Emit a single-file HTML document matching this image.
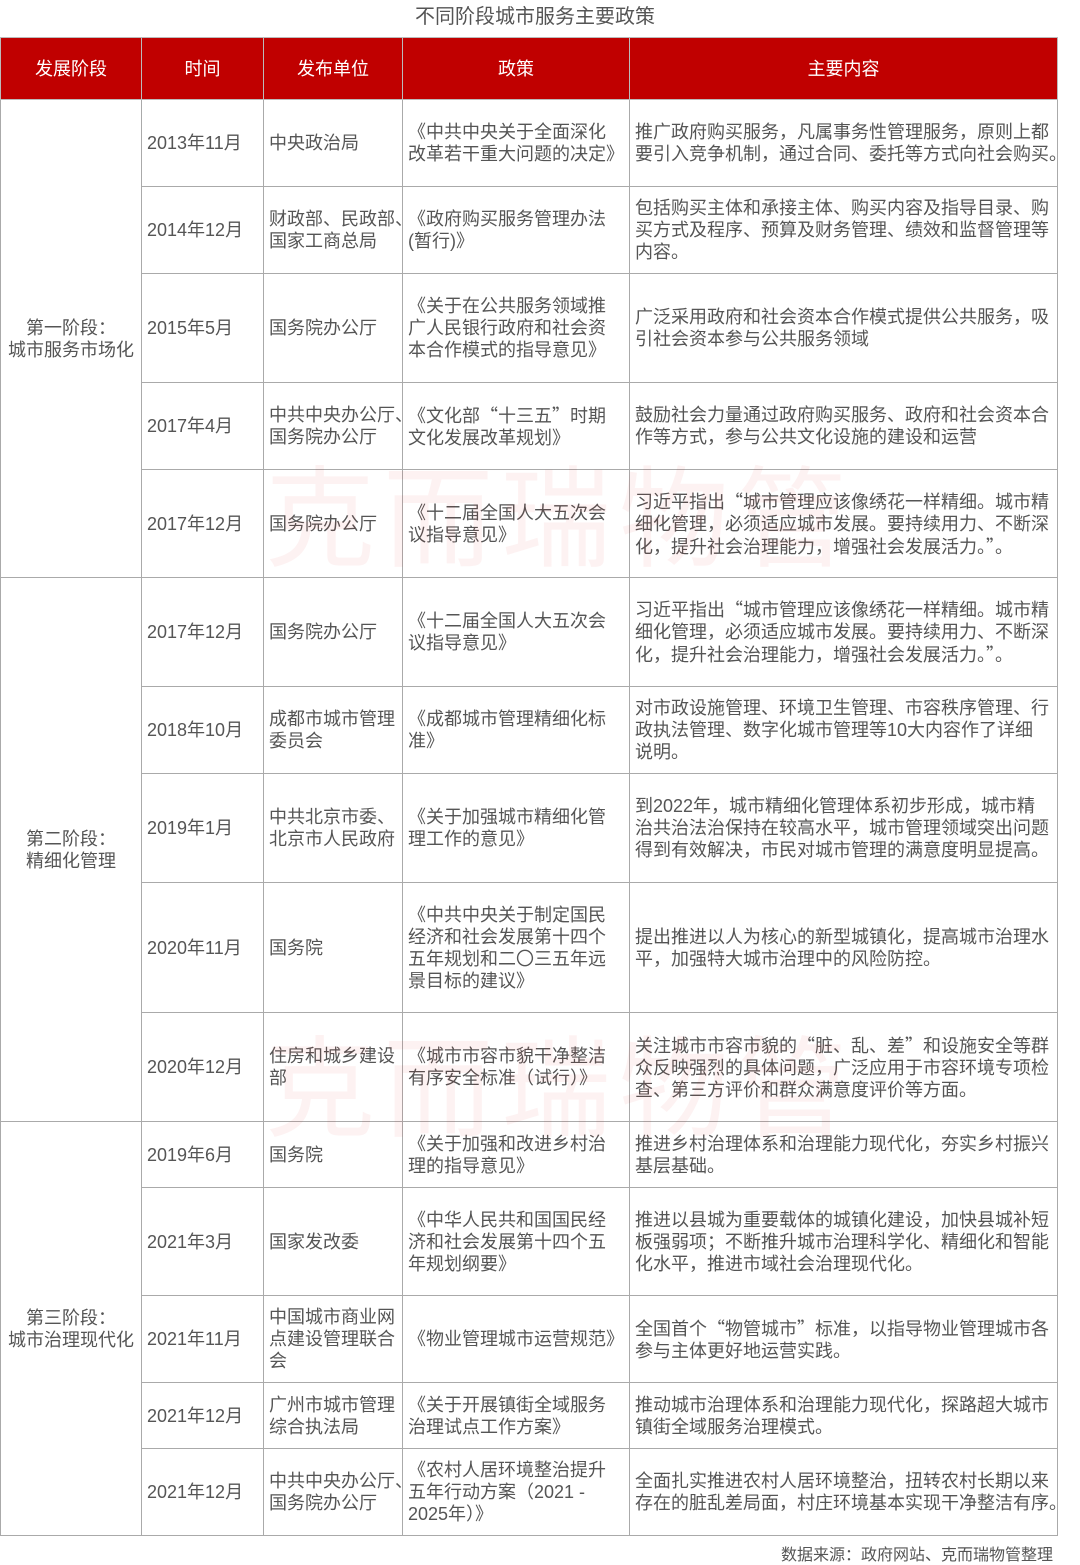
<!DOCTYPE html>
<html><head><meta charset="utf-8"><style>
body{margin:0;width:1080px;height:1564px;background:#fff;font-family:"Liberation Sans","Noto Sans CJK SC",sans-serif;color:#555;position:relative;overflow:hidden}
.title{position:absolute;top:4px;left:0;width:1070px;text-align:center;font-size:20px;color:#555;line-height:26px}
table{position:absolute;top:37px;left:0;border-collapse:collapse;table-layout:fixed;width:1057px}
td,th{border:1px solid #aaa;font-size:18px;line-height:22px;padding:0 0 0 5px;white-space:nowrap;overflow:visible;vertical-align:middle;text-align:left}
th{background:#c00000;color:#fff;font-weight:normal;text-align:center;height:61px;padding:0;border-color:#bbb}
td.c{text-align:center;padding:0}
.q{font-family:"Noto Sans CJK SC",sans-serif}
.src{position:absolute;top:1541px;right:27px;font-size:16px;color:#555}
.wm{position:absolute;font-size:110px;color:rgba(220,0,0,0.05);white-space:nowrap;letter-spacing:8px}
</style></head><body>
<div class="title">不同阶段城市服务主要政策</div>
<table>
<colgroup><col style="width:141px"><col style="width:122px"><col style="width:139px"><col style="width:227px"><col style="width:428px"></colgroup>
<tr><th>发展阶段</th><th>时间</th><th>发布单位</th><th>政策</th><th>主要内容</th></tr>
<tr style="height:87px"><td class="c" rowspan="5">第一阶段：<br>城市服务市场化</td><td>2013年11月</td><td>中央政治局</td><td>《中共中央关于全面深化<br>改革若干重大问题的决定》</td><td>推广政府购买服务，凡属事务性管理服务，原则上都<br>要引入竞争机制，通过合同、委托等方式向社会购买。</td></tr>
<tr style="height:87px"><td>2014年12月</td><td>财政部、民政部、<br>国家工商总局</td><td>《政府购买服务管理办法<br>(暂行)》</td><td>包括购买主体和承接主体、购买内容及指导目录、购<br>买方式及程序、预算及财务管理、绩效和监督管理等<br>内容。</td></tr>
<tr style="height:109px"><td>2015年5月</td><td>国务院办公厅</td><td>《关于在公共服务领域推<br>广人民银行政府和社会资<br>本合作模式的指导意见》</td><td>广泛采用政府和社会资本合作模式提供公共服务，吸<br>引社会资本参与公共服务领域</td></tr>
<tr style="height:87px"><td>2017年4月</td><td>中共中央办公厅、<br>国务院办公厅</td><td>《文化部<span class="q">“</span>十三五<span class="q">”</span>时期<br>文化发展改革规划》</td><td>鼓励社会力量通过政府购买服务、政府和社会资本合<br>作等方式，参与公共文化设施的建设和运营</td></tr>
<tr style="height:108px"><td>2017年12月</td><td>国务院办公厅</td><td>《十二届全国人大五次会<br>议指导意见》</td><td>习近平指出<span class="q">“</span>城市管理应该像绣花一样精细。城市精<br>细化管理，必须适应城市发展。要持续用力、不断深<br>化，提升社会治理能力，增强社会发展活力。<span class="q">”</span>。</td></tr>
<tr style="height:109px"><td class="c" rowspan="5">第二阶段：<br>精细化管理</td><td>2017年12月</td><td>国务院办公厅</td><td>《十二届全国人大五次会<br>议指导意见》</td><td>习近平指出<span class="q">“</span>城市管理应该像绣花一样精细。城市精<br>细化管理，必须适应城市发展。要持续用力、不断深<br>化，提升社会治理能力，增强社会发展活力。<span class="q">”</span>。</td></tr>
<tr style="height:87px"><td>2018年10月</td><td>成都市城市管理<br>委员会</td><td>《成都城市管理精细化标<br>准》</td><td>对市政设施管理、环境卫生管理、市容秩序管理、行<br>政执法管理、数字化城市管理等10大内容作了详细<br>说明。</td></tr>
<tr style="height:109px"><td>2019年1月</td><td>中共北京市委、<br>北京市人民政府</td><td>《关于加强城市精细化管<br>理工作的意见》</td><td>到2022年，城市精细化管理体系初步形成，城市精<br>治共治法治保持在较高水平，城市管理领域突出问题<br>得到有效解决，市民对城市管理的满意度明显提高。</td></tr>
<tr style="height:130px"><td>2020年11月</td><td>国务院</td><td>《中共中央关于制定国民<br>经济和社会发展第十四个<br>五年规划和二〇三五年远<br>景目标的建议》</td><td>提出推进以人为核心的新型城镇化，提高城市治理水<br>平，加强特大城市治理中的风险防控。</td></tr>
<tr style="height:109px"><td>2020年12月</td><td>住房和城乡建设<br>部</td><td>《城市市容市貌干净整洁<br>有序安全标准（试行）》</td><td>关注城市市容市貌的<span class="q">“</span>脏、乱、差<span class="q">”</span>和设施安全等群<br>众反映强烈的具体问题，广泛应用于市容环境专项检<br>查、第三方评价和群众满意度评价等方面。</td></tr>
<tr style="height:66px"><td class="c" rowspan="5">第三阶段：<br>城市治理现代化</td><td>2019年6月</td><td>国务院</td><td>《关于加强和改进乡村治<br>理的指导意见》</td><td>推进乡村治理体系和治理能力现代化，夯实乡村振兴<br>基层基础。</td></tr>
<tr style="height:108px"><td>2021年3月</td><td>国家发改委</td><td>《中华人民共和国国民经<br>济和社会发展第十四个五<br>年规划纲要》</td><td>推进以县城为重要载体的城镇化建设，加快县城补短<br>板强弱项；不断推升城市治理科学化、精细化和智能<br>化水平，推进市域社会治理现代化。</td></tr>
<tr style="height:87px"><td>2021年11月</td><td>中国城市商业网<br>点建设管理联合<br>会</td><td>《物业管理城市运营规范》</td><td>全国首个<span class="q">“</span>物管城市<span class="q">”</span>标准，以指导物业管理城市各<br>参与主体更好地运营实践。</td></tr>
<tr style="height:66px"><td>2021年12月</td><td>广州市城市管理<br>综合执法局</td><td>《关于开展镇街全域服务<br>治理试点工作方案》</td><td>推动城市治理体系和治理能力现代化，探路超大城市<br>镇街全域服务治理模式。</td></tr>
<tr style="height:87px"><td>2021年12月</td><td>中共中央办公厅、<br>国务院办公厅</td><td>《农村人居环境整治提升<br>五年行动方案（2021 -<br>2025年）》</td><td>全面扎实推进农村人居环境整治，扭转农村长期以来<br>存在的脏乱差局面，村庄环境基本实现干净整洁有序。</td></tr>
</table>
<div class="wm" style="left:265px;top:430px">克而瑞物管</div>
<div class="wm" style="left:265px;top:1000px">克而瑞物管</div>
<div class="src">数据来源：政府网站、克而瑞物管整理</div>
</body></html>
